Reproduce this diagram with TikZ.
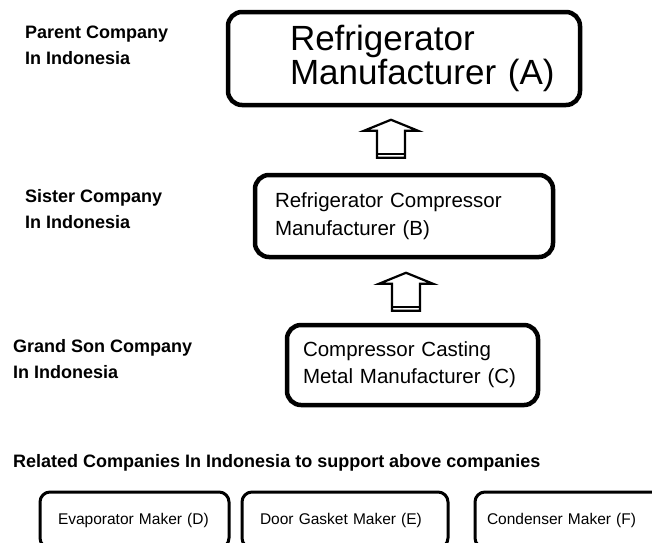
\documentclass[tikz,border=0pt]{standalone}
\usepackage{fontspec}
\setmainfont{Liberation Sans}
\usetikzlibrary{calc}

\tikzset{
  bigbox/.style={draw, line width=4.5pt, rounded corners=14pt, align=left, inner ysep=0pt},
  smallbox/.style={draw, line width=3pt, rounded corners=10pt, align=left, inner ysep=0pt,
    font=\fontsize{15.5}{18}\selectfont},
  sidelabel/.style={anchor=base west, align=left, inner sep=0pt,
    font=\fontsize{18}{26}\selectfont\bfseries},
  hollow/.style={line width=2.2pt, line join=miter},
}

% hollow block arrow, #1 = middle of its foot
\newcommand{\hollowarrow}[1]{%
  \draw[hollow] (#1) ++(-14,0) -- ++(0,-27) -- ++(-13,0) -- ++(27,-11)
    -- ++(27,11) -- ++(-13,0) -- ++(0,27) -- cycle;
  \draw[hollow] (#1) ++(-14,-4) -- ++(28,0);
}

\begin{document}
\begin{tikzpicture}[x=1pt,y=-1pt]

  \useasboundingbox (0,0) rectangle (652,542);

  % base of a two-line label = base of its second line
  \node[sidelabel] at (25,64) (parent) {Parent Company\\In Indonesia};
  \node[sidelabel] at (25,228) (sister) {Sister Company\\In Indonesia};
  \node[sidelabel] at (13,378) (grandson) {Grand Son Company\\In Indonesia};

  \node[bigbox, minimum height=93, text width=228, inner xsep=62,
    font=\fontsize{35}{34}\selectfont] at (404,58.5) (A) {Refrigerator\\Manufacturer~(A)};
  \node[bigbox, minimum height=82, text width=258, inner xsep=20,
    font=\fontsize{20.5}{28}\selectfont] at (404,216) (B) {Refrigerator Compressor\\Manufacturer (B)};
  \node[bigbox, minimum height=80, text width=219, inner xsep=16,
    font=\fontsize{20.5}{27}\selectfont] at (412.5,365) (C) {Compressor Casting\\Metal Manufacturer (C)};

  \coordinate (BA) at ($(B.north)+(-13,-15)$);
  \coordinate (CB) at ($(C.north)+(-6.5,-12)$);
  \hollowarrow{BA}
  \hollowarrow{CB}

  \node[sidelabel] at (13,467) (related) {Related Companies In Indonesia to support above companies};

  \node[smallbox, minimum height=56, text width=153, inner xsep=18] at (134.5,520) (D) {Evaporator Maker (D)};
  \node[smallbox, minimum height=56, text width=170, inner xsep=18] at (345,520) (E) {Door Gasket Maker (E)};
  \node[smallbox, minimum height=56, text width=181, inner xsep=12] at (577.5,520) (F) {Condenser Maker (F)};

\end{tikzpicture}
\end{document}
